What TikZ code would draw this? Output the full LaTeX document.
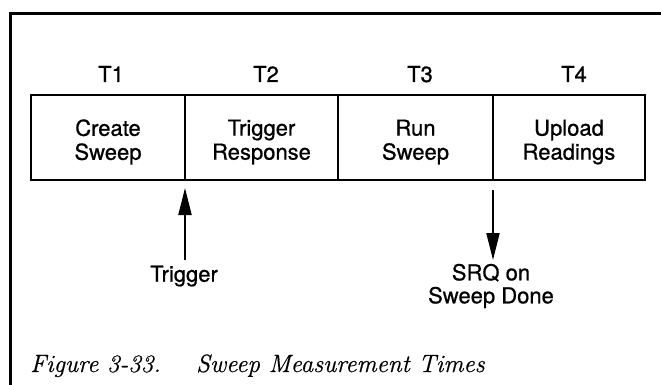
\documentclass[tikz,border=0pt]{standalone}
\usepackage{fontspec}
\setmainfont[FakeBold=0.8]{TeX Gyre Heros}
\newfontfamily\capfont[FakeBold=0.5]{Latin Modern Roman}
\usetikzlibrary{arrows.meta}
\begin{document}
\begin{tikzpicture}[x=1pt,y=-1pt,
  cell/.style={draw,line width=2pt,minimum height=85pt,inner sep=0pt},
  celltext/.style={align=center,inner sep=0pt,font=\fontsize{22}{24}\selectfont},
  tlab/.style={anchor=base,inner sep=0pt,font=\fontsize{22}{24}\selectfont},
  lab/.style={align=center,inner sep=0pt,font=\fontsize{22}{23}\selectfont},
  captext/.style={anchor=base west,inner sep=0pt,font=\capfont\itshape\fontsize{25}{28}\selectfont},
  arr/.style={line width=2pt,-{Triangle[length=27pt,width=13pt]}}]
\useasboundingbox (0,0) rectangle (661,385);
\draw[line width=2.2pt] (10.5,385) -- (10.5,13.5) -- (661,13.5);
\node[cell,minimum width=154pt] (c1) at (108,137.5) {};
\node[cell,minimum width=153pt] (c2) at (261.5,137.5) {};
\node[cell,minimum width=155pt] (c3) at (415.5,137.5) {};
\node[cell,minimum width=152pt] (c4) at (569,137.5) {};
\node[celltext] (c1t) at (108,142) {Create\\Sweep};
\node[celltext] (c2t) at (261.5,142) {Trigger\\Response};
\node[celltext] (c3t) at (415.5,142) {Run\\Sweep};
\node[celltext] (c4t) at (569,142) {Upload\\Readings};
\node[tlab] (t1) at (111,82) {T1};
\node[tlab] (t2) at (266,82) {T2};
\node[tlab] (t3) at (420,82) {T3};
\node[tlab] (t4) at (574,82) {T4};
\node[tlab] (trig) at (184,281.7) {Trigger};
\node[lab] (srq) at (491,286) {SRQ on\\Sweep Done};
\coordinate (ua) at (185,260);
\coordinate (ub) at (185,188);
\coordinate (da) at (493,190);
\coordinate (db) at (493,260);
\draw[arr] (ua) -- (ub);
\draw[arr] (da) -- (db);
\node[captext] (f1) at (30,372) {Figure 3-33.};
\node[captext] (f2) at (196,372) {Sweep Measurement Times};
\end{tikzpicture}
\end{document}
